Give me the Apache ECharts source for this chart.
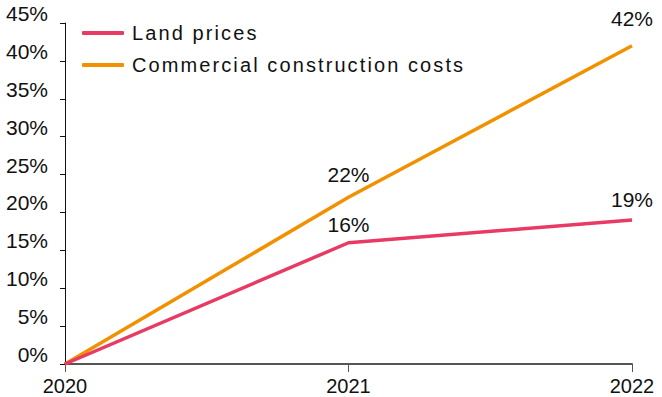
<!DOCTYPE html>
<html>
<head>
<meta charset="utf-8">
<script src="https://cdn.jsdelivr.net/npm/echarts@6/dist/echarts.min.js"></script>
<style>
  html, body { margin: 0; padding: 0; background: #fff; }
  #chart { width: 662px; height: 397px; }
</style>
</head>
<body>
<div id="chart"></div>
<script>
// Cumulative change since 2020, in percent
const years = ['2020', '2021', '2022'];
const landPrices = [0, 16, 19];
const constructionCosts = [0, 22, 42];
const seriesNames = ['Land prices', 'Commercial construction costs'];

const FONT = 'Liberation Sans, Arial, Helvetica, sans-serif';
const RED = '#e83a62';
const ORANGE = '#f29100';

// Gap between each point and its value label
const landLabelGap = [0, 8, 10];
const costLabelGap = [0, 12, 17];

// The starting year is the baseline, so only later points carry a value label
function withLabels(values, gaps) {
  return values.map((v, i) => ({
    value: v,
    label: { show: i > 0, distance: gaps[i] }
  }));
}

const valueLabel = {
  show: true, position: 'top', formatter: '{c}%',
  fontFamily: FONT, fontSize: 21, color: '#111'
};

const chart = echarts.init(document.getElementById('chart'), null, { renderer: 'svg' });

chart.setOption({
  animation: false,
  backgroundColor: '#ffffff',
  textStyle: { fontFamily: FONT },
  grid: { left: 65, right: 30, top: 23, bottom: 33, containLabel: false },
  legend: {
    orient: 'vertical',
    left: 82,
    top: 23,
    padding: 0,
    itemWidth: 42,
    itemHeight: 4,
    itemGap: 12,
    icon: 'roundRect',
    textStyle: { fontFamily: FONT, fontSize: 20, color: '#111', padding: [0, 0, 0, 3] },
    data: seriesNames
  },
  xAxis: {
    type: 'category',
    data: years,
    boundaryGap: false,
    axisLine: { lineStyle: { color: '#555', width: 2 } },
    axisTick: { show: true, length: 8, lineStyle: { color: '#555', width: 1 } },
    axisLabel: { fontFamily: FONT, fontSize: 20, color: '#111', margin: 12, interval: 0 },
    splitLine: { show: false }
  },
  yAxis: {
    type: 'value',
    min: 0,
    max: 45,
    interval: 5,
    axisLine: { show: true, lineStyle: { color: '#111', width: 1 } },
    axisTick: { show: true, length: 5, lineStyle: { color: '#111' } },
    axisLabel: {
      fontFamily: FONT, fontSize: 21, color: '#111', margin: 17,
      formatter: '{value}%',
      verticalAlign: 'bottom',
      lineHeight: 19
    },
    splitLine: { show: false }
  },
  series: [
    {
      name: seriesNames[0],
      type: 'line',
      data: withLabels(landPrices, landLabelGap),
      color: RED,
      lineStyle: { width: 3.5, color: RED },
      symbol: 'circle',
      symbolSize: 0,
      label: valueLabel,
      z: 3
    },
    {
      name: seriesNames[1],
      type: 'line',
      data: withLabels(constructionCosts, costLabelGap),
      color: ORANGE,
      lineStyle: { width: 3.5, color: ORANGE },
      symbol: 'circle',
      symbolSize: 0,
      label: valueLabel,
      z: 2
    }
  ]
});

// Legend entries are set with looser tracking
document.querySelectorAll('#chart svg text').forEach(function (t) {
  if (seriesNames.indexOf(t.textContent) !== -1) {
    t.setAttribute('letter-spacing', '2.1px');
  }
});
</script>
</body>
</html>
